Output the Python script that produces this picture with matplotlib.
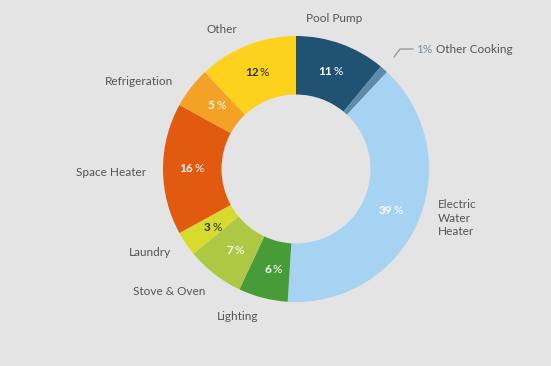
import matplotlib.pyplot as plt
import numpy as np

plt.rcParams["font.family"] = ["Lato", "DejaVu Sans"]

categories = [
    "Pool Pump",
    "Other Cooking",
    "Electric Water Heater",
    "Lighting",
    "Stove & Oven",
    "Laundry",
    "Space Heater",
    "Refrigeration",
    "Other",
]
shares = [11, 1, 39, 6, 7, 3, 16, 5, 12]
colors = [
    "#1f5273",
    "#5f8ba8",
    "#a6d3f2",
    "#489c37",
    "#adc943",
    "#d7db2d",
    "#e25a10",
    "#f3a226",
    "#fdd21d",
]
pct_dark = [False, False, False, False, False, True, False, False, True]

# outer category labels: (text, x, y, ha) in pie-radius units
outer_labels = [
    ("Pool Pump", 0.29, 1.13, "center"),
    ("Electric\nWater\nHeater", 1.07, -0.37, "left"),
    ("Lighting", -0.44, -1.11, "center"),
    ("Stove & Oven", -0.95, -0.92, "center"),
    ("Laundry", -1.10, -0.63, "center"),
    ("Space Heater", -1.39, -0.03, "center"),
    ("Refrigeration", -1.18, 0.66, "center"),
    ("Other", -0.56, 1.05, "center"),
]

bg = "#e4e4e4"
text_gray = "#555555"

fig = plt.figure(figsize=(5.51, 3.66), dpi=100, facecolor=bg)
ax = fig.add_axes([0, 0, 1, 1])
ax.set_facecolor(bg)

wedges, _ = ax.pie(
    shares,
    colors=colors,
    startangle=90,
    counterclock=False,
    radius=1.0,
    wedgeprops=dict(width=0.44, linewidth=0),
)

for w, val, dark, name in zip(wedges, shares, pct_dark, categories):
    if name == "Other Cooking":
        continue
    ang = np.deg2rad((w.theta1 + w.theta2) / 2)
    r = 0.78
    x, y = r * np.cos(ang), r * np.sin(ang)
    c = "#333333" if dark else "white"
    ax.annotate(str(val), (x, y), xytext=(0.5, 0), textcoords="offset points",
                ha="right", va="center", fontsize=8.5, fontweight="bold", color=c)
    ax.annotate("%", (x, y), xytext=(1.5, 0), textcoords="offset points",
                ha="left", va="center", fontsize=8.5, color=c)

for text, x, y, ha in outer_labels:
    ax.text(x, y, text, ha=ha, va="center", fontsize=8.5, color=text_gray,
            linespacing=1.25)

# leader for the tiny Other Cooking slice
ax.plot([0.737, 0.782, 0.88], [0.842, 0.902, 0.902], color="#888888", lw=0.8)
ax.text(0.905, 0.902, "1%", ha="left", va="center", fontsize=8.5,
        color="#7d8fa0")
ax.text(1.055, 0.902, "Other Cooking", ha="left", va="center", fontsize=8.5,
        color=text_gray)

ax.set_xlim(-296 / 133, (551 - 296) / 133)
ax.set_ylim(-(366 - 169) / 133, 169 / 133)
ax.set_aspect("equal")
ax.axis("off")

fig.savefig("out.png", dpi=100, facecolor=bg)
